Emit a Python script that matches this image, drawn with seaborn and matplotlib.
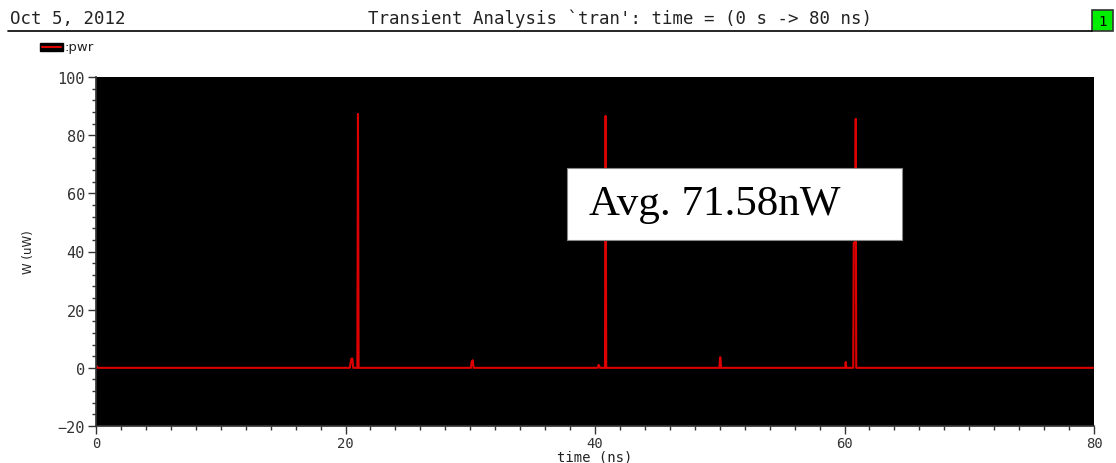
import matplotlib
matplotlib.use("Agg")
import matplotlib.pyplot as plt
from matplotlib.patches import Rectangle
from matplotlib.lines import Line2D
import seaborn as sns
import pandas as pd

# ---- data ----
time_ns = [0.0, 0.05, 0.1, 0.2,
           20.35, 20.42, 20.48, 20.55, 20.62,
           20.95, 21.0, 21.05,
           30.05, 30.12, 30.2, 30.27,
           40.2, 40.3, 40.4,
           40.8, 40.85, 40.9,
           49.98, 50.02, 50.06, 50.1,
           60.05, 60.1, 60.15,
           60.7, 60.74, 60.86, 60.9, 60.94, 60.98,
           80.0]
pwr_uW = [0.0, 0.6, 0.0, 0.0,
          0.0, 2.0, 3.2, 3.2, 0.0,
          0.0, 87.3, 0.0,
          0.0, 2.2, 2.6, 0.0,
          0.0, 1.0, 0.0,
          0.0, 86.6, 0.0,
          0.0, 3.6, 3.6, 0.0,
          0.0, 2.0, 0.0,
          0.0, 43.0, 43.0, 85.6, 0.0, 0.0,
          0.0]

x_ticks = [0, 20, 40, 60, 80]
y_ticks = [-20, 0, 20, 40, 60, 80, 100]

df = pd.DataFrame({"time": time_ns, "pwr": pwr_uW})

sns.set_theme(style="ticks")
plt.rcParams['font.family'] = ['DejaVu Sans']
MONO = "DejaVu Sans Mono"

fig = plt.figure(figsize=(11.16, 4.64), dpi=100)
fig.patch.set_facecolor("white")
ax = fig.add_axes([96/1116, 37/464, 998/1116, 349/464])
ax.set_facecolor("black")

sns.lineplot(data=df, x="time", y="pwr", sort=False, estimator=None,
             color="#dd0000", linewidth=1.5, ax=ax)

ax.set_xlim(0, 80)
ax.set_ylim(-20, 100)
ax.set_xticks(x_ticks)
ax.set_yticks(y_ticks)
ax.set_xticks(range(0, 81, 2), minor=True)
ax.set_yticks(range(-20, 101, 4), minor=True)
ax.tick_params(axis="both", which="major", length=6, width=1.0, color="#333333",
               labelsize=11, labelcolor="#333333", direction="out", pad=2)
ax.tick_params(axis="x", which="major", pad=1, labelsize=10)
ax.tick_params(axis="both", which="minor", length=3, width=1.0, color="#333333",
               direction="out")
for lab in ax.get_xticklabels() + ax.get_yticklabels():
    lab.set_family(MONO)
for s in ["top", "right"]:
    ax.spines[s].set_visible(False)
for s in ["left", "bottom"]:
    ax.spines[s].set_color("#333333")
ax.set_xlabel("time (ns)", fontsize=10, color="#222222", labelpad=0,
              family=MONO)
ax.set_ylabel("W (uW)", fontsize=8.5, color="#222222", labelpad=16)

# annotation box
ax.add_patch(Rectangle((471/998, (427-241)/349), 335/998, 72/349,
                       transform=ax.transAxes, fc="white", ec="#888888",
                       lw=0.8, zorder=5))
ax.text(493/998, (427-205)/349, "Avg. 71.58nW", transform=ax.transAxes,
        fontsize=31, family="Liberation Serif", color="black",
        ha="left", va="center", zorder=6)

# header
fig.text(10/1116, 1 - 19/464, "Oct 5, 2012", fontsize=12.5, color="#222222",
         ha="left", va="center", family=MONO)
fig.text(620/1116, 1 - 19/464,
         "Transient Analysis `tran': time = (0 s -> 80 ns)",
         fontsize=12.5, color="#222222", ha="center", va="center", family=MONO)
fig.add_artist(Line2D([8/1116, 1092/1116], [1 - 32/464, 1 - 32/464],
                      color="black", lw=1.2, transform=fig.transFigure))
fig.add_artist(Rectangle((1092/1116, 1 - 32/464), 21/1116, 21/464,
                         transform=fig.transFigure, fc="#00ee00",
                         ec="#333333", lw=1.2))
fig.text(1102.5/1116, 1 - 22/464, "1", fontsize=10, color="black",
         ha="center", va="center", family=MONO)

# legend
fig.add_artist(Rectangle((40/1116, 1 - 52/464), 23/1116, 8/464,
                         transform=fig.transFigure, fc="black", ec="black"))
fig.add_artist(Line2D([42/1116, 61/1116], [1 - 48/464, 1 - 48/464],
                      color="#dd0000", lw=1.5, transform=fig.transFigure))
fig.text(65/1116, 1 - 48/464, ":pwr", fontsize=9.5, color="#222222",
         ha="left", va="center")

fig.savefig("out.png", dpi=100)
